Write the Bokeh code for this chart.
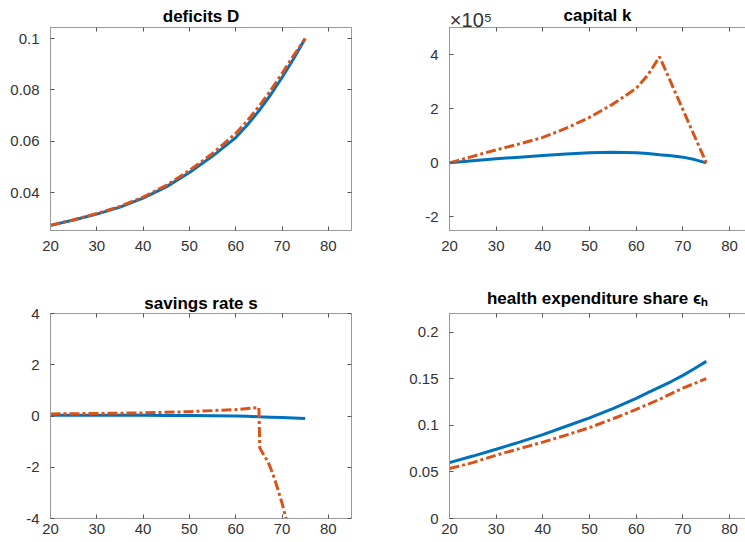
from bokeh.plotting import figure
from bokeh.models import (FixedTicker, LinearAxis, Range1d, CustomJSTickFormatter)
from bokeh.layouts import gridplot
from bokeh.embed import file_html
from bokeh.resources import INLINE

# ---------------- data ----------------
age = [20, 25, 30, 35, 40, 45, 50, 55, 60, 62.5, 65, 67.5, 70, 72.5, 75]

deficit_base = [0.0272, 0.0293, 0.0316, 0.0343, 0.0378, 0.0422, 0.0478, 0.0542, 0.0614,
                0.0663, 0.0718, 0.0780, 0.0848, 0.0921, 0.1]
deficit_alt = [0.0272, 0.0294, 0.0318, 0.0346, 0.0382, 0.0428, 0.0486, 0.0552, 0.0630,
               0.0680, 0.0735, 0.0797, 0.0864, 0.0934, 0.1]

capital_base = [0, 8000, 15000, 21000, 27000, 33000, 37000, 39000, 37000,
                34500, 30000, 26000, 21000, 12000, 0]
capital_alt_age = [20, 25, 30, 35, 40, 45, 50, 55, 60, 62.5, 65, 75]
capital_alt = [0, 24000, 48000, 70000, 94000, 128000, 168000, 217000, 275000, 325000, 392000, 0]

savings_base = [0.03, 0.03, 0.03, 0.03, 0.03, 0.02, 0.02, 0.01, 0.0,
                -0.01, -0.03, -0.045, -0.06, -0.08, -0.1]
savings_alt_age = [20, 30, 40, 50, 60, 65, 65.2, 66, 67, 68, 69, 70, 71, 71.5]
savings_alt = [0.08, 0.1, 0.12, 0.17, 0.25, 0.33, -1.25, -1.5, -1.8, -2.25, -2.8, -3.4, -4.1, -4.6]

health_base = [0.060, 0.067, 0.0743, 0.082, 0.090, 0.099, 0.108, 0.118, 0.129,
               0.135, 0.141, 0.147, 0.1536, 0.161, 0.1686]
health_alt = [0.0536, 0.060, 0.068, 0.075, 0.082, 0.0895, 0.0975, 0.107, 0.117,
              0.1225, 0.128, 0.134, 0.140, 0.145, 0.150]

x_ticks = [20, 30, 40, 50, 60, 70, 80]
exponent_label = "×10⁵"
exponent_pos = [24.6]

BLUE = "#0072BD"
ORANGE = "#D95319"
AXIS = "#9a9a9a"
TICKLBL = "#333333"
FONT = "Liberation Sans"
DASH = "10 3 3 3"
LW = 3

fmt = CustomJSTickFormatter(code="return String(+tick.toFixed(4));")


def make_panel(title, x_end, y_range, y_ticks, frame_w, frame_h, left, right, top, bottom,
               right_axis=True, formatter=None, x_standoff=10, title_standoff=4):
    p = figure(width=left + frame_w + right, height=top + frame_h + bottom,
               frame_width=frame_w, frame_height=frame_h,
               x_range=Range1d(20, x_end), y_range=Range1d(*y_range),
               output_backend="svg", toolbar_location=None, title=title,
               min_border_left=left, min_border_right=right,
               min_border_top=top, min_border_bottom=bottom)
    p.background_fill_color = "white"
    p.border_fill_color = "white"
    p.outline_line_color = None
    p.grid.visible = False
    p.title.align = "center"
    p.title.text_font = FONT
    p.title.text_font_size = "17px"
    p.title.text_font_style = "bold"
    p.title.text_color = "black"
    p.title.standoff = title_standoff
    # bottom / left axes
    for ax, ticks in ((p.xaxis[0], x_ticks), (p.yaxis[0], y_ticks)):
        ax.ticker = FixedTicker(ticks=ticks)
        ax.axis_line_color = AXIS
        ax.major_tick_line_color = "#555555"
        ax.major_tick_in = 4
        ax.major_tick_out = 0
        ax.minor_tick_line_color = None
        ax.major_label_text_font = FONT
        ax.major_label_text_font_size = "15px"
        ax.major_label_text_color = TICKLBL
    p.xaxis[0].major_label_standoff = x_standoff
    p.yaxis[0].major_label_standoff = 11
    p.yaxis[0].formatter = formatter if formatter is not None else fmt
    p.xaxis[0].formatter = fmt
    # top / right box axes (tick marks only)
    extra = [("above", x_ticks)]
    if right_axis:
        extra.append(("right", y_ticks))
    for side, ticks in extra:
        ax = LinearAxis(ticker=FixedTicker(ticks=ticks))
        ax.axis_line_color = AXIS
        ax.major_tick_line_color = "#555555"
        ax.major_tick_in = 4
        ax.major_tick_out = 0
        ax.minor_tick_line_color = None
        ax.major_label_text_font_size = "1px"
        ax.major_label_text_color = None
        ax.major_label_standoff = 0
        p.add_layout(ax, side)
    return p


# ---- deficits D ----
p1 = make_panel("deficits D", 85, (0.0252, 0.1043), [0.04, 0.06, 0.08, 0.1],
                301, 203, 50, 21, 27, 41, x_standoff=10)
p1.line(age, deficit_base, line_color=BLUE, line_width=LW)
p1.line(age, deficit_alt, line_color=ORANGE, line_width=LW, line_dash=DASH)

# ---- capital k (title drawn as the label of an extra top axis carrying the ×10⁵ note) ----
kfmt = CustomJSTickFormatter(code="return (tick/1e5).toFixed(0);")
p2 = make_panel("", 83.4, (-250000, 500000), [-200000, 0, 200000, 400000],
                296, 203, 77, 0, 27, 41, right_axis=False, formatter=kfmt, x_standoff=10)
p2.title.visible = False
p2.line(age, capital_base, line_color=BLUE, line_width=LW)
p2.line(capital_alt_age, capital_alt, line_color=ORANGE, line_width=LW, line_dash=DASH)
note_axis = LinearAxis(ticker=FixedTicker(ticks=exponent_pos),
                       formatter=CustomJSTickFormatter(args=dict(t=exponent_label),
                                                       code="return t;"))
note_axis.axis_line_color = None
note_axis.major_tick_line_color = None
note_axis.minor_tick_line_color = None
note_axis.major_tick_in = 0
note_axis.major_tick_out = 0
note_axis.major_label_standoff = -3
note_axis.major_label_text_font = FONT
note_axis.major_label_text_font_size = "20px"
note_axis.major_label_text_color = TICKLBL
note_axis.axis_label = "capital k"
note_axis.axis_label_text_font = FONT
note_axis.axis_label_text_font_size = "17px"
note_axis.axis_label_text_font_style = "bold"
note_axis.axis_label_text_color = "black"
note_axis.axis_label_standoff = -19
p2.add_layout(note_axis, "above")

# ---- savings rate s ----
p3 = make_panel("savings rate s", 85, (-4, 4), [-4, -2, 0, 2, 4],
                301, 205, 50, 21, 42, 24, x_standoff=5, title_standoff=2)
p3.line(age, savings_base, line_color=BLUE, line_width=LW)
p3.line(savings_alt_age, savings_alt, line_color=ORANGE, line_width=LW, line_dash=DASH)

# ---- health expenditure share ----
p4 = make_panel("health expenditure share ϵₕ", 83.4, (0, 0.22), [0, 0.05, 0.1, 0.15, 0.2],
                296, 205, 77, 0, 42, 24, right_axis=False, x_standoff=5, title_standoff=12)
p4.line(age, health_base, line_color=BLUE, line_width=LW)
p4.line(age, health_alt, line_color=ORANGE, line_width=LW, line_dash=DASH)

grid = gridplot([[p1, p2], [p3, p4]], toolbar_location=None)

open("out.html", "w").write(file_html(grid, INLINE))
